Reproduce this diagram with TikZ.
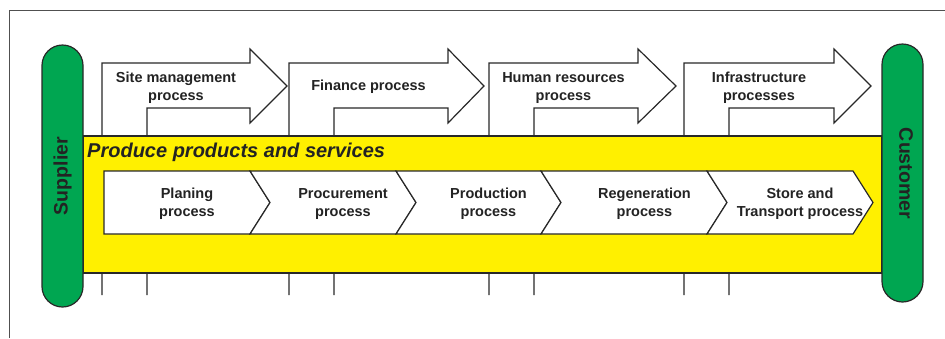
\documentclass[tikz,border=0pt]{standalone}
\usepackage{fontspec}
\setmainfont{Liberation Sans}
\definecolor{pillgreen}{RGB}{0,166,81}
\definecolor{bandyellow}{RGB}{255,240,0}
\definecolor{edge}{RGB}{40,40,40}
\definecolor{txt}{RGB}{35,35,35}
\definecolor{framegray}{RGB}{80,80,80}
\tikzset{
  outline/.style={draw=edge, line width=1.2pt},
  toparrow/.style={outline, fill=white},
  chev/.style={outline, fill=white},
  lbl/.style={text=txt, font=\fontsize{14.5}{18}\selectfont\bfseries, align=center, inner sep=0pt},
  pill/.style={outline, fill=pillgreen, rounded corners=20.5pt},
  pilltext/.style={text=txt, font=\fontsize{19.5}{22}\selectfont\bfseries, inner sep=0pt},
}
\begin{document}
\begin{tikzpicture}[x=1pt,y=-1pt]
\useasboundingbox (0,0) rectangle (945,338);
% frame
\draw[framegray, line width=1pt] (9,338) -- (9,10) -- (945,10);
% top arrows
\foreach \L/\I/\B/\T in {102/147/250/287, 289/334/448/484, 489/534/638/676, 684/729/834/871}{
  \draw[toparrow] (\L,295) -- (\L,63) -- (\B,63) -- (\B,49) -- (\T,86) -- (\B,123) -- (\B,108) -- (\I,108) -- (\I,295);
}
\node[lbl] (site) at (176,88) {Site management\\process};
\node[lbl] (fin) at (368.5,87) {Finance process};
\node[lbl] (hr) at (563.5,88) {Human resources\\process};
\node[lbl] (infra) at (759,88) {Infrastructure\\processes};
% yellow band
\draw[outline, fill=bandyellow] (83,136) rectangle (882,273);
\node[anchor=west, text=txt, font=\fontsize{20}{24}\selectfont\bfseries\itshape, inner sep=0pt] (produce) at (87,152) {Produce products and services};
% chevrons
\draw[chev] (104,171) -- (250,171) -- (270,202.5) -- (250,234) -- (104,234) -- cycle;
\foreach \P/\B in {250/396, 396/541, 541/707, 707/853}{
  \draw[chev] (\P,171) -- (\B,171) -- (\B+20,202.5) -- (\B,234) -- (\P,234) -- (\P+20,202.5) -- cycle;
}
\node[lbl] (plan) at (187,204) {Planing\\process};
\node[lbl] (proc) at (343,204) {Procurement\\process};
\node[lbl] (prod) at (488.5,204) {Production\\process};
\node[lbl] (regen) at (644.5,204) {Regeneration\\process};
\node[lbl] (store) at (800,204) {Store and\\Transport process};
% pills
\draw[pill] (42,45) rectangle (83,307);
\draw[pill] (882,44) rectangle (923,302);
\node[pilltext, rotate=90] (supplier) at (62.5,176) {Supplier};
\node[pilltext, rotate=-90] (customer) at (906,173.5) {Customer};
\end{tikzpicture}
\end{document}
